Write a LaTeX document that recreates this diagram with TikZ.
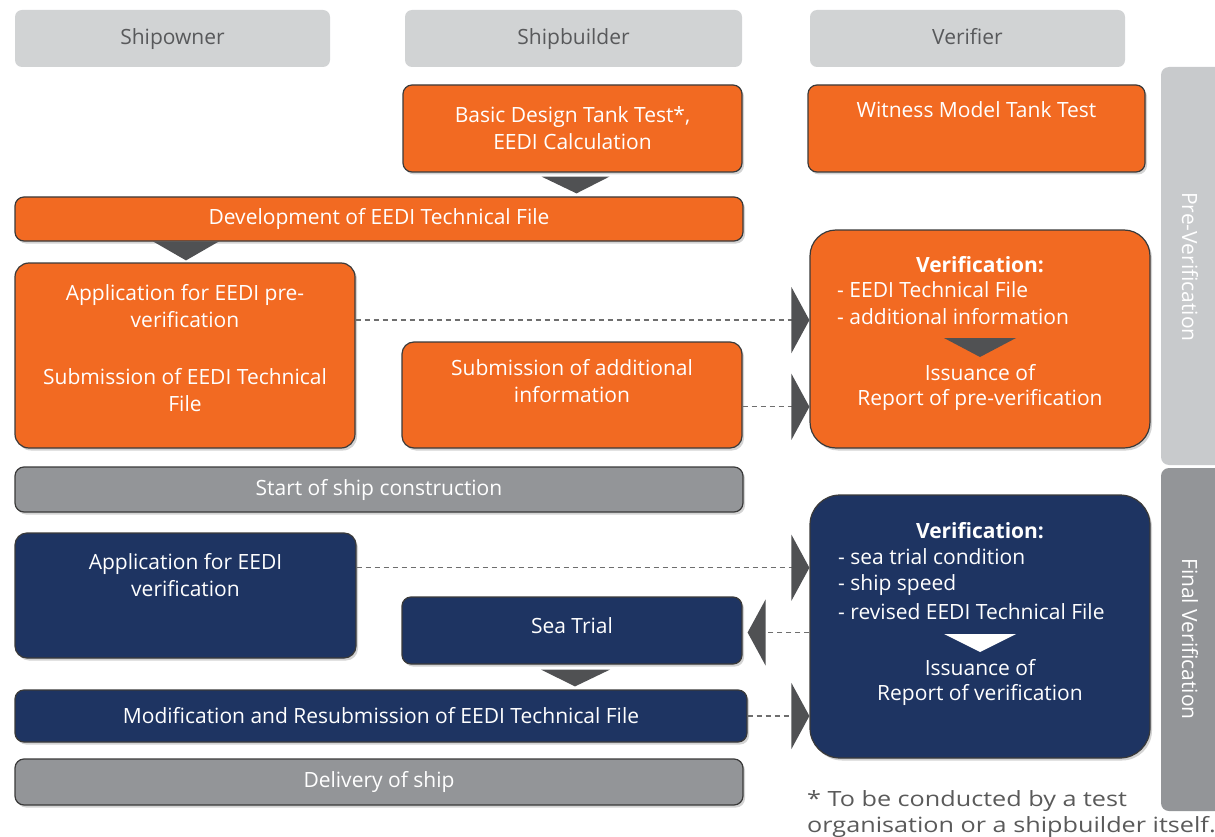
\documentclass[tikz,border=0pt]{standalone}
\usepackage{fontspec}
\setmainfont{Open Sans}
\newfontfamily\notefont{Open Sans}[FakeStretch=1.2]
\usetikzlibrary{arrows.meta,shadows,calc}
\definecolor{org}{HTML}{F26A22}
\definecolor{navy}{HTML}{1E3462}
\definecolor{hdr}{HTML}{D1D3D4}
\definecolor{hdrtxt}{HTML}{58595B}
\definecolor{barg}{HTML}{939598}
\definecolor{tri}{HTML}{505153}
\definecolor{bandA}{HTML}{C8CACC}
\definecolor{bandB}{HTML}{939598}
\definecolor{edge}{HTML}{3A3A3A}
\definecolor{dashc}{HTML}{6E6E6E}
\definecolor{notec}{HTML}{5A5A5A}
\begin{document}
\begin{tikzpicture}[x=1pt,y=-1pt,font=\fontsize{21}{27}\selectfont,
  hdrbox/.style={fill=hdr,rounded corners=7pt,text=hdrtxt,inner sep=0pt},
  basebox/.style={draw=edge,line width=1.2pt,rounded corners=9pt,text=white,align=center,inner sep=0pt,
    drop shadow={shadow xshift=2pt,shadow yshift=-2.5pt,opacity=0.35}},
  obox/.style={basebox,fill=org},
  nbox/.style={basebox,fill=navy},
  gbar/.style={basebox,fill=barg},
  band/.style={rounded corners=8pt,inner sep=0pt},
  wtxt/.style={text=white,inner sep=0pt},
  htxt/.style={text=hdrtxt,inner sep=0pt,anchor=base},
  ltxt/.style={text=white,inner sep=0pt,anchor=west},
  dashline/.style={draw=dashc,line width=1.4pt,dash pattern=on 5pt off 4pt},
  tipR/.style={-{Triangle[length=18pt,width=66pt,color=tri]}},
]
\useasboundingbox (0,0) rectangle (1215,837);
\clip (0,0) rectangle (1215,837);

% headers
\node[hdrbox,minimum width=315pt,minimum height=57pt] (hown) at (172.5,38.5) {};
\node[hdrbox,minimum width=337pt,minimum height=57pt] (hbld) at (573.5,38.5) {};
\node[hdrbox,minimum width=315pt,minimum height=57pt] (hver) at (967.5,38.5) {};
\node[htxt] (hownt) at (172.5,45) {Shipowner};
\node[htxt] (hbldt) at (573.5,45) {Shipbuilder};
\node[htxt] (hvert) at (967.5,45) {Verifier};

% side bands
\node[band,fill=bandA,minimum width=90pt,minimum height=398pt] (preband) at (1206,266) {};
\node[band,fill=bandB,minimum width=90pt,minimum height=343pt] (finband) at (1206,639.5) {};
\node[wtxt,rotate=-90] (pretxt) at (1190,267) {Pre-Verification};
\node[wtxt,rotate=-90] (fintxt) at (1190,639) {Final Verification};

% pre-verification part
\node[obox,minimum width=339pt,minimum height=87pt] (bd) at (572.5,128.5) {Basic Design Tank Test*,\\EEDI Calculation};
\node[obox,minimum width=337pt,minimum height=87pt] (wit) at (976.5,128.5) {};
\node[wtxt] (witt) at (976.5,110) {Witness Model Tank Test};
\node[obox,minimum width=728pt,minimum height=44pt] (dev) at (379,219) {Development of EEDI Technical File};
\node[obox,minimum width=340pt,minimum height=185pt,rounded corners=14pt] (app) at (185,355.5) {};
\node[wtxt,align=center] (appt) at (185,348.5) {Application for EEDI pre-\\verification\\[30pt]Submission of EEDI Technical\\File};
\node[obox,minimum width=340pt,minimum height=106pt,rounded corners=12pt] (sub) at (572,395) {};
\node[wtxt,align=center] (subt) at (572,381) {Submission of additional\\information};
\node[obox,minimum width=340pt,minimum height=218pt,rounded corners=26pt] (pver) at (980,339) {};
\node[wtxt,font=\fontsize{21}{27}\selectfont\bfseries] (pv1) at (980,265) {Verification:};
\node[ltxt] (pv2) at (837,290) {- EEDI Technical File};
\node[ltxt] (pv3) at (837,317) {- additional information};
\node[wtxt] (pv4) at (980,373) {Issuance of};
\node[wtxt] (pv5) at (980,400) {Report of pre-verification};
\fill[tri] (944,338) -- (1016,338) -- (980,357) -- cycle;

% down triangles
\fill[tri] ($(bd.south)+(-31,4)$) -- ($(bd.south)+(37,4)$) -- ($(bd.south |- dev.north)+(4,-3)$) -- cycle;
\fill[tri] ($(app.north)+(-32,-21)$) -- ($(app.north)+(34,-21)$) -- ($(app.north)+(1,-2)$) -- cycle;

% dashed connectors (pre)
\coordinate (s1) at ($(app.north east)!0.31!(app.south east)$);
\coordinate (s2) at ($(sub.north east)!0.61!(sub.south east)$);
\draw[dashline,tipR] (s1) -- (s1 -| pver.west);
\draw[dashline,tipR] (s2) -- (s2 -| pver.west);

% construction bar
\node[gbar,minimum width=728pt,minimum height=45pt] (start) at (379,489.5) {Start of ship construction};

% final verification part
\node[nbox,minimum width=341pt,minimum height=125pt,rounded corners=12pt] (appv) at (185.5,595.5) {};
\node[wtxt,align=center] (appvt) at (185.5,575.5) {Application for EEDI\\verification};
\node[nbox,minimum width=340pt,minimum height=67pt] (sea) at (572,630.5) {};
\node[wtxt] (seat) at (572,626) {Sea Trial};
\node[nbox,minimum width=340pt,minimum height=263pt,rounded corners=30pt] (fver) at (980,626.5) {};
\node[wtxt,font=\fontsize{21}{27}\selectfont\bfseries] (fv1) at (980,531) {Verification:};
\node[ltxt] (fv2) at (838,557) {- sea trial condition};
\node[ltxt] (fv3) at (838,585) {- ship speed};
\node[ltxt] (fv4) at (838,612) {- revised EEDI Technical File};
\node[wtxt] (fv5) at (980,668) {Issuance of};
\node[wtxt] (fv6) at (980,695) {Report of verification};
\fill[white] (944,634) -- (1016,634) -- (980,652) -- cycle;

\node[nbox,minimum width=732pt,minimum height=52pt] (mod) at (381,716) {Modification and Resubmission of EEDI Technical File};
\fill[tri] ($(sea.south)+(-31,5)$) -- ($(sea.south)+(38,5)$) -- ($(sea.south |- mod.north)+(3,-3)$) -- cycle;

\coordinate (s3) at ($(appv.north east)!0.28!(appv.south east)$);
\coordinate (s4) at ($(sea.east)+(0,2)$);
\draw[dashline,tipR] (s3) -- (s3 -| fver.west);
\draw[dashline,tipR,shorten >=5pt] (s4 -| fver.west) -- (s4);
\draw[dashline,tipR] (mod.east) -- (mod.east -| fver.west);

\node[gbar,minimum width=728pt,minimum height=46pt] (del) at (379,782) {Delivery of ship};

% footnote
\node[inner sep=0pt,anchor=north west,align=left,text=notec,font=\notefont\fontsize{21}{26}\selectfont] (note) at (807,790) {* To be conducted by a test\\organisation or a shipbuilder itself.};
\end{tikzpicture}
\end{document}
